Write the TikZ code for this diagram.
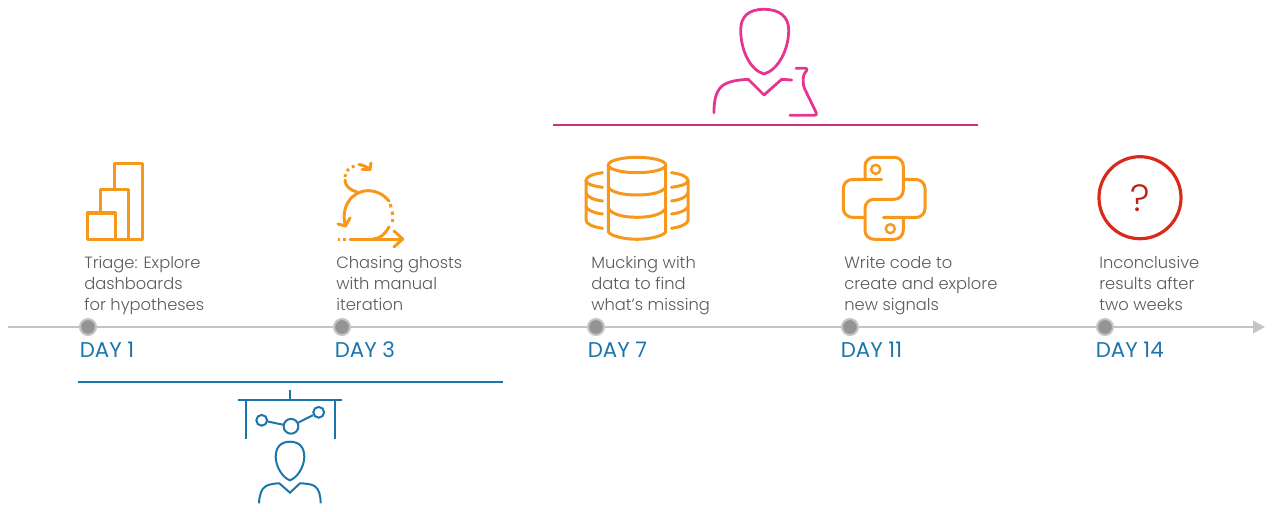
\documentclass[tikz,border=0pt]{standalone}
\usepackage{fontspec}
\setmainfont{Poppins}[UprightFont=* Light]
\newfontfamily\dayfont{Poppins}
\usetikzlibrary{arrows.meta}
\definecolor{tlgray}{HTML}{C4C4C4}
\definecolor{dotgray}{HTML}{949494}
\definecolor{txtgray}{HTML}{5A5A5A}
\definecolor{dayblue}{HTML}{1B75AC}
\definecolor{iconorange}{HTML}{F7981D}
\definecolor{iconpink}{HTML}{E5368F}
\definecolor{barpink}{HTML}{C8327F}
\definecolor{iconred}{HTML}{D92B1C}
\tikzset{
  daydot/.style={circle, draw=tlgray, fill=dotgray, line width=.5mm, minimum size=4mm, inner sep=0pt},
  daylabel/.style={anchor=west, text=dayblue, font=\dayfont\fontsize{15.2}{18}\selectfont, inner sep=0pt},
  steptext/.style={anchor=north west, align=left, text=txtgray, font=\fontsize{11.6}{15}\selectfont, inner sep=0pt},
  orangeline/.style={iconorange, line width=.75mm, line cap=round, line join=round},
  pinkline/.style={iconpink, line width=.7mm, line cap=round, line join=round},
  blueline/.style={dayblue, line width=.5mm},
  bluepoint/.style={circle, draw=dayblue, line width=.5mm, inner sep=0pt}
}
\begin{document}
\begin{tikzpicture}[x=.025cm, y=-.025cm]
  \useasboundingbox (0,0) rectangle (1272,512);
  % Timeline:
  \coordinate (tlstart) at (8,327);
  \coordinate (tlend) at (1265,327);
  \draw[tlgray, line width=.5mm, -{Triangle[length=3mm,width=3.2mm]}] (tlstart) -- (tlend);
  \foreach \name/\x/\lx/\tx/\d/\t in {
    one/88/79.5/84/DAY 1/{Triage: Explore\\dashboards\\for hypotheses},
    three/342/334.5/336/DAY 3/{Chasing ghosts\\with manual\\iteration},
    seven/596/587.5/591/DAY 7/{Mucking with\\data to find\\what's missing},
    eleven/850/840.5/844/DAY 11/{Write code to\\create and explore\\new signals},
    fourteen/1105/1095.5/1099/DAY 14/{Inconclusive\\results after\\two weeks}} {
    \node[daydot] (dot\name) at (\x,327) {};
    \node[daylabel] (lab\name) at (\lx,350) {\d};
    \node[steptext] (txt\name) at (\tx,256) {\t};
  }
  % Bars:
  \coordinate (bluebarl) at (78,382);
  \coordinate (bluebarr) at (503,382);
  \coordinate (pinkbarl) at (553,125);
  \coordinate (pinkbarr) at (978,125);
  \draw[dayblue, line width=.5mm] (bluebarl) -- (bluebarr);
  \draw[barpink, line width=.5mm] (pinkbarl) -- (pinkbarr);
  % Bar chart:
  \draw[orangeline] (87,213) rectangle (115,239.3);
  \draw[orangeline] (100.3,213) -- (100.3,189.3) -- (128.3,189.3) -- (128.3,239.3) -- (115,239.3);
  \draw[orangeline] (114.3,189.3) -- (114.3,163.3) -- (142.3,163.3) -- (142.3,239.3) -- (128.3,239.3);
  % Loop:
  \draw[orangeline] (345.5,226) .. controls (340,207) and (352,190.7) .. (368,190.7) .. controls (377,190.7) and (384,195) .. (389,201);
  \draw[orangeline, line cap=butt, dash pattern=on 2.5pt off 3pt] (390,204) .. controls (392,209) and (393,215) .. (392.5,222);
  \draw[orangeline] (389,227) .. controls (385,234) and (380,239) .. (373,239);
  \draw[orangeline] (350,239) -- (402.7,239);
  \draw[orangeline] (394,231) -- (402.7,239) -- (394,247);
  \draw[orangeline, line cap=butt, dash pattern=on 2pt off 2pt] (337.5,239) -- (348,239);
  \draw[orangeline] (338,224) -- (345.5,226) -- (350,218);
  \draw[orangeline] (357,192) .. controls (350,190) and (345,186) .. (345,180);
  \draw[orangeline, line cap=butt, dash pattern=on 2pt off 2.5pt] (345,177) .. controls (345,172) and (349,167) .. (356,165.5);
  \draw[orangeline] (359,164.5) .. controls (363,165) and (367,167) .. (370,169.5) -- (371,163);
  \draw[orangeline] (370,169.5) -- (362,169.5);
  % Database:
  \draw[orangeline] (637,165) ellipse (28.7 and 7.7);
  \draw[orangeline] (608.3,165) -- (608.3,231.7) .. controls (610,236) and (625,239.3) .. (637,239.3) .. controls (649,239.3) and (664,236) .. (665.7,231.7) -- (665.7,165);
  \draw[orangeline] (608.3,187.3) .. controls (612,193) and (625,195) .. (637,195) .. controls (649,195) and (662,193) .. (665.7,187.3);
  \draw[orangeline] (608.3,208.3) .. controls (612,215) and (625,217.3) .. (637,217.3) .. controls (649,217.3) and (662,215) .. (665.7,208.3);
  \draw[orangeline] (602.5,172.7) .. controls (592,174) and (586,177) .. (586,180.7) .. controls (586,184) and (593,186) .. (602.5,187.3);
  \draw[orangeline] (586,180.7) -- (586,220) .. controls (586,224) and (593,227) .. (602.5,228.3);
  \draw[orangeline] (586,193) .. controls (587,197) and (594,200) .. (602.5,201);
  \draw[orangeline] (586,206.7) .. controls (587,210) and (594,213) .. (602.5,214);
  \draw[orangeline] (671.5,172.7) .. controls (682,174) and (688,177) .. (688,180.7) .. controls (688,184) and (681,186) .. (671.5,187.3);
  \draw[orangeline] (688,180.7) -- (688,220) .. controls (688,224) and (681,227) .. (671.5,228.3);
  \draw[orangeline] (688,193) .. controls (687,197) and (680,200) .. (671.5,201);
  \draw[orangeline] (688,206.7) .. controls (687,210) and (680,213) .. (671.5,214);
  % Python logo:
  \draw[orangeline, rounded corners=6.4pt] (865,179.5) -- (865,157.3) -- (903.3,157.3) -- (903.3,199.3) -- (865,199.3) -- (865,239.3) -- (903.3,239.3) -- (903.3,217.5);
  \draw[orangeline, rounded corners=6.4pt] (863.3,179.5) -- (843.3,179.5) -- (843.3,217.3) -- (863.3,217.3);
  \draw[orangeline, rounded corners=6.4pt] (883.3,217.5) -- (925,217.5) -- (925,179.5) -- (903.3,179.5);
  \draw[orangeline] (863.3,179.5) -- (881.7,179.5);
  \draw[iconorange, line width=.6mm] (875.7,169.3) circle (4.5);
  \draw[iconorange, line width=.6mm] (890.3,228.7) circle (4.5);
  % Question:
  \node[circle, draw=iconred, line width=.8mm, minimum size=2.05cm, inner sep=0pt, text=iconred!85!black, font=\fontsize{27}{30}\selectfont] (question) at (1140,197.7) {?};
  % Scientist:
  \draw[pinkline] (764,9.3) .. controls (780,9.3) and (788.7,17) .. (788.7,30) .. controls (788.7,50) and (778,70) .. (764,74) .. controls (750,70) and (740.7,50) .. (740.7,30) .. controls (740.7,17) and (748,9.3) .. (764,9.3);
  \draw[pinkline] (714,112.7) .. controls (714,100) and (716,93) .. (720,88) .. controls (726,81) and (738,80) .. (748.3,79.3) -- (764,95) -- (781.7,79.3) -- (791.7,80);
  \draw[pinkline, rounded corners=2pt] (796,68.3) -- (808.3,68.3) -- (803.3,75) -- (803.3,86) -- (817.5,115.3) -- (790,115.3);
  % Analyst:
  \coordinate (stemtop) at (290,390.3);
  \coordinate (stembase) at (290,399.7);
  \coordinate (boardl) at (238.3,399.7);
  \coordinate (boardr) at (341.7,399.7);
  \coordinate (legl) at (246,399.7);
  \coordinate (legr) at (335,399.7);
  \coordinate (footl) at (246,439);
  \coordinate (footr) at (335,439);
  \draw[blueline] (stemtop) -- (stembase);
  \draw[blueline] (boardl) -- (boardr);
  \draw[blueline] (legl) -- (footl);
  \draw[blueline] (legr) -- (footr);
  \node[bluepoint, minimum size=2.7mm] (pta) at (261.7,420.3) {};
  \node[bluepoint, minimum size=3.7mm] (ptb) at (291,426.3) {};
  \node[bluepoint, minimum size=2.7mm] (ptc) at (318.7,412.3) {};
  \draw[blueline] (pta) -- (ptb);
  \draw[blueline] (ptb) -- (ptc);
  \draw[blueline] (290,441.7) .. controls (299,441.7) and (304.3,447) .. (304.3,456.7) .. controls (304.3,467) and (297,478) .. (290,480.3) .. controls (283,478) and (275.7,467) .. (275.7,456.7) .. controls (275.7,447) and (281,441.7) .. (290,441.7);
  \draw[blueline] (259,503.3) .. controls (259.5,495) and (261,489) .. (266,486) .. controls (270,484) and (275,483.5) .. (279.3,483.3) -- (290,492.7) -- (300,483.3) .. controls (306,483.5) and (311,484) .. (314.5,486) .. controls (319,489) and (320.5,495) .. (320.7,503.3);
\end{tikzpicture}
\end{document}
